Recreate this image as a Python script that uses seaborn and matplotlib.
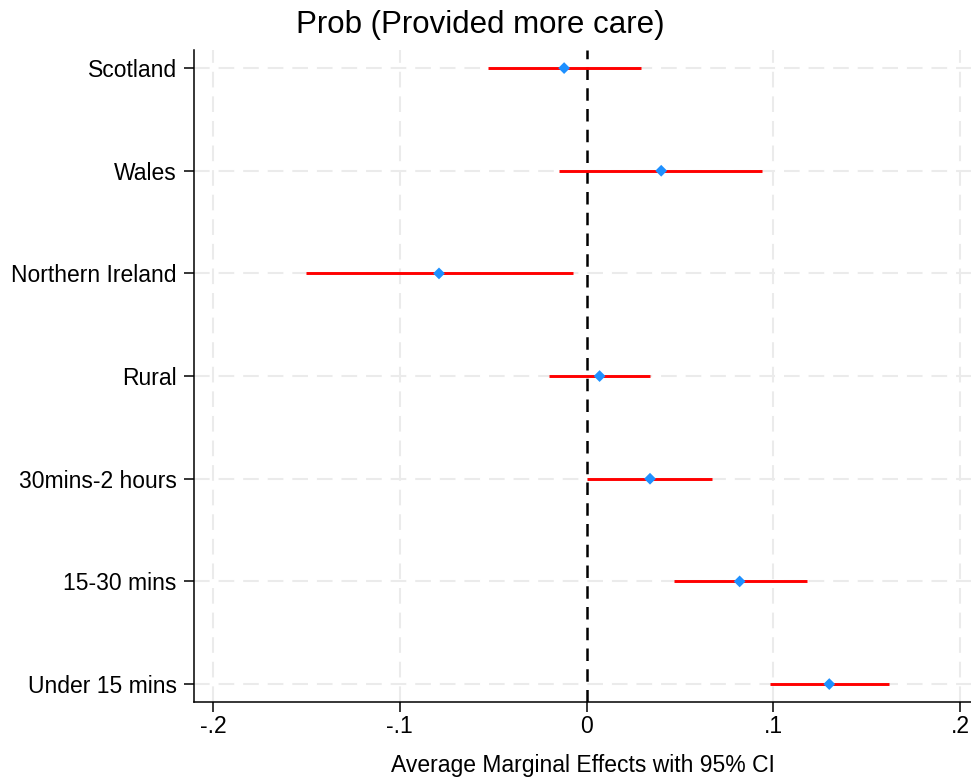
import matplotlib
matplotlib.use("Agg")
import matplotlib.pyplot as plt
import seaborn as sns
import pandas as pd
import numpy as np

# data
labels = ['Scotland', 'Wales', 'Northern Ireland', 'Rural',
          '30mins-2 hours', '15-30 mins', 'Under 15 mins']
estimate = [-0.012, 0.040, -0.079, 0.007, 0.034, 0.082, 0.130]
ci_low = [-0.053, -0.015, -0.150, -0.020, 0.000, 0.047, 0.098]
ci_high = [0.029, 0.094, -0.007, 0.034, 0.067, 0.118, 0.162]
xticks = [-0.2, -0.1, 0, 0.1, 0.2]
xticklabels = ['-.2', '-.1', '0', '.1', '.2']

df = pd.DataFrame({'label': labels, 'est': estimate, 'lo': ci_low, 'hi': ci_high})
df['pos'] = np.arange(len(df))

sns.set_style('white')
plt.rcParams['font.family'] = ['Liberation Sans', 'DejaVu Sans']
plt.rcParams['text.color'] = 'black'
plt.rcParams['axes.labelcolor'] = 'black'
plt.rcParams['xtick.color'] = 'black'
plt.rcParams['ytick.color'] = 'black'

fig = plt.figure(figsize=(9.71, 7.83), dpi=100)
ax = fig.add_axes([0.1998, 0.1034, 0.8002, 0.8326])

# grid
grid_kw = dict(color='#ebebeb', lw=1.5, ls=(0, (7.5, 4.3)), zorder=0)
for x in xticks:
    if x != 0:
        ax.axvline(x, **grid_kw)
for y in df['pos']:
    ax.axhline(y, **grid_kw)

# zero line
ax.axvline(0, color='black', lw=1.8, ls=(0, (5, 3.3)), zorder=1)

# CIs
ax.hlines(df['pos'], df['lo'], df['hi'], color='red', lw=2.1, zorder=2)
sns.scatterplot(data=df, x='est', y='pos', marker='D', color='#1e90ff',
                s=36, edgecolor='none', zorder=3, ax=ax)

ax.set_xlim(-0.2102, 0.2059)
ax.set_ylim(6.175, -0.175)
ax.set_xticks(xticks)
ax.set_xticklabels(xticklabels)
ax.set_yticks(df['pos'])
ax.set_yticklabels(labels)
ax.tick_params(axis='both', labelsize=16.5, width=1.1, direction='out',
               bottom=True, left=True)
ax.tick_params(axis='y', length=7.5, pad=5)
ax.tick_params(axis='x', length=7.5, pad=2)
ax.set_xlabel('Average Marginal Effects with 95% CI', fontsize=16.5, labelpad=11)
ax.set_ylabel('')

for side in ['top', 'right']:
    ax.spines[side].set_visible(False)
for side in ['left', 'bottom']:
    ax.spines[side].set_color('black')
    ax.spines[side].set_linewidth(1.1)

fig.text(480 / 971, 1 - 25 / 783, 'Prob (Provided more care)', fontsize=22.5,
         ha='center', va='center')

fig.savefig('out.png', dpi=100)
